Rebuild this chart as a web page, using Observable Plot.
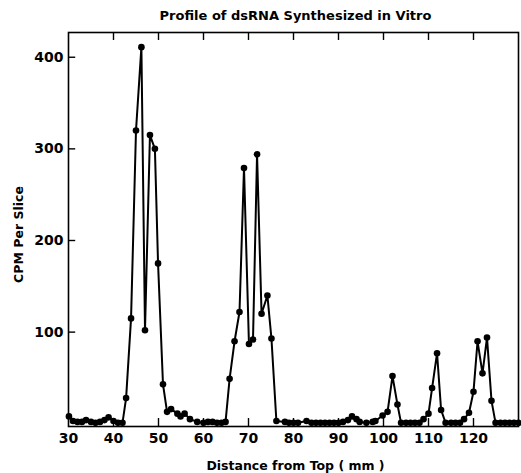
<!DOCTYPE html>
<html>
<head>
<meta charset="utf-8">
<script src="https://cdn.jsdelivr.net/npm/d3@7"></script>
<script src="https://cdn.jsdelivr.net/npm/@observablehq/plot@0.6"></script>
<style>
  html, body { margin: 0; padding: 0; background: white; }
</style>
</head>
<body>
<div id="chart"></div>
<script>
const titleText = "Profile of dsRNA Synthesized in Vitro";
const xLabel = "Distance from Top ( mm )";
const yLabel = "CPM Per Slice";

// distance from top (mm) of each slice
const distance = [
  30.1, 31, 32, 33, 33.9, 35, 36, 37, 38, 38.9, 40, 41, 42,
  42.8, 43.9, 45.0, 46.2, 47.0, 48.1, 49.2, 49.9, 51.0, 51.9, 52.8, 54.2, 54.9, 55.8, 57.0, 58.6,
  60.0, 61, 62, 63, 64, 64.9,
  65.8, 66.9, 68.0, 69.0, 70.1, 71.0, 71.9, 72.9, 74.2, 75.1, 76.2,
  78.1, 79, 80, 81, 82.9, 84, 85, 86, 87, 88, 89, 90, 91,
  92.1, 93.0, 94.0, 94.7, 96.2, 97.6, 98.2,
  99.8, 100.9, 102.0, 103.1, 103.9, 105, 106, 107, 108,
  108.9, 110.0, 110.8, 111.9, 112.8, 113.8, 115, 116, 117,
  117.9, 119.0, 120.0, 120.9, 122.0, 123.0, 124.0, 124.9, 126, 127, 128, 129, 130
];
// counts per minute per slice
const cpm = [
  8, 3, 2, 2, 4, 2, 1, 2, 4, 7, 3, 1, 1,
  28, 115, 320, 411, 102, 315, 300, 175, 43, 13, 16, 11, 8, 11, 5, 2,
  1, 2, 2, 1, 1, 2,
  49, 90, 122, 279, 87, 92, 294, 120, 140, 93, 3,
  2, 1, 1, 1, 3, 1, 1, 1, 1, 1, 1, 1, 2,
  4, 8, 5, 2, 1, 2, 3,
  9, 13, 52, 21, 1, 1, 1, 1, 1,
  5, 11, 39, 77, 15, 1, 1, 1, 1,
  5, 12, 35, 90, 55, 94, 25, 1, 1, 1, 1, 1, 1
];
const xTickLabels = [30, 40, 50, 60, 70, 80, 90, 100, 110, 120];
const xTickMarks = [40, 50, 60, 70, 80, 90, 100, 110, 120];
const yTicks = [100, 200, 300, 400];

const data = distance.map((d, i) => ({distance: d, cpm: cpm[i]}));

const chart = Plot.plot({
  width: 521,
  height: 473,
  marginLeft: 68,
  marginRight: 3,
  marginTop: 32,
  marginBottom: 47,
  x: {domain: [30, 130]},
  y: {domain: [-3, 427]},
  style: {fontFamily: "DejaVu Sans", fontWeight: "bold", color: "black", background: "white"},
  marks: [
    Plot.frame({stroke: "black", strokeWidth: 1.6}),
    Plot.axisX(xTickLabels, {tickSize: 0, tickPadding: 7, fontSize: 14, label: null, tickFormat: d => d}),
    Plot.axisY(yTicks, {tickSize: 0, tickPadding: 5, fontSize: 14, label: null}),
    Plot.ruleX(xTickMarks, {x: d => d, y1: -3, y2: 5.7, stroke: "black", strokeWidth: 1.4}),
    Plot.ruleX(xTickMarks, {x: d => d, y1: 427, y2: 418.3, stroke: "black", strokeWidth: 1.4}),
    Plot.ruleY(yTicks, {y: d => d, x1: 30, x2: 31.6, stroke: "black", strokeWidth: 1.4}),
    Plot.line(data, {x: "distance", y: "cpm", stroke: "black", strokeWidth: 2}),
    Plot.dot(data, {x: "distance", y: "cpm", r: 3.3, fill: "black", stroke: "none"}),
    Plot.text([titleText], {frameAnchor: "top", lineAnchor: "middle", dy: -17, dx: 2, fontSize: 13, fontWeight: "bold", fill: "black", text: d => d}),
    Plot.text([xLabel], {frameAnchor: "bottom", lineAnchor: "middle", dy: 39, dx: 2, fontSize: 12.5, fontWeight: "bold", fill: "black", text: d => d}),
    Plot.text([yLabel], {frameAnchor: "left", textAnchor: "middle", lineAnchor: "middle", dx: -50, dy: 5, rotate: -90, fontSize: 12.5, fontWeight: "bold", fill: "black", text: d => d})
  ]
});
document.getElementById("chart").append(chart);
</script>
</body>
</html>
